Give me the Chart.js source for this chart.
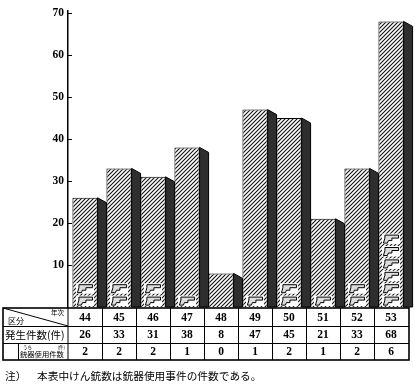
<!DOCTYPE html>
<html><head><meta charset="utf-8">
<script src="https://cdn.jsdelivr.net/npm/chart.js@4/dist/chart.umd.min.js"></script>
<style>html,body{margin:0;padding:0;background:#fff}#wrap{width:415px;height:385px;position:relative}</style>
</head><body><div id="wrap"><canvas id="c" width="415" height="385"></canvas></div>
<script>
const years = ['44','45','46','47','48','49','50','51','52','53'];
const incidents = [26,33,31,38,8,47,45,21,33,68];
const gunIncidents = [2,2,2,1,0,1,2,1,2,6];
const yTicks = [10,20,30,40,50,60,70];
const headerLeft = '区分';
const headerRight = '年次';
const row1Label = '発生件数(件)';
const row2Label = '銃器使用件数';
const row2Ruby = 'うち';
const row2Unit = '(件)';
const noteMark = '注）';
const noteText = '本表中けん銃数は銃器使用事件の件数である。';

const canvas = document.getElementById('c');
const ctx0 = canvas.getContext('2d');
function makeHatch(){
  const c = document.createElement('canvas'); c.width = 4; c.height = 4;
  const g = c.getContext('2d');
  g.fillStyle = '#fff'; g.fillRect(0,0,4,4);
  g.strokeStyle = '#111'; g.lineWidth = 1.1;
  g.beginPath();
  g.moveTo(0,4); g.lineTo(4,0);
  g.moveTo(-1,1); g.lineTo(1,-1);
  g.moveTo(3,5); g.lineTo(5,3);
  g.stroke();
  return ctx0.createPattern(c,'repeat');
}
const hatch = makeHatch();

function drawGun(ctx, bx, by, w, h){
  ctx.save();
  ctx.fillStyle = '#fff';
  ctx.fillRect(bx, by, w, h);
  ctx.strokeStyle = '#000'; ctx.lineWidth = 1;
  ctx.beginPath();
  // barrel
  ctx.moveTo(bx+3, by+1.5); ctx.lineTo(bx+w-1.5, by+1.5); ctx.lineTo(bx+w-1.5, by+4.5);
  ctx.lineTo(bx+10, by+4.5);
  // trigger area
  ctx.lineTo(bx+10, by+7); ctx.lineTo(bx+6.5, by+7);
  // grip
  ctx.lineTo(bx+5.5, by+h-1); ctx.lineTo(bx+1.5, by+h-1); ctx.lineTo(bx+3, by+4.5);
  ctx.closePath();
  ctx.fillStyle = '#ddd'; ctx.fill();
  ctx.stroke();
  ctx.restore();
}

const deco = {
  id: 'deco',
  afterDatasetsDraw(chart){
    const ctx = chart.ctx;
    const meta = chart.getDatasetMeta(0);
    const ys = chart.scales.y;
    const ca = chart.chartArea;
    ctx.save();
    meta.data.forEach((bar, i) => {
      const p = bar.getProps(['x','y','base','width'], true);
      const left = p.x - p.width/2, right = p.x + p.width/2;
      // side face (3D)
      ctx.beginPath();
      ctx.moveTo(right, p.y); ctx.lineTo(right+9, p.y+5); ctx.lineTo(right+9, p.base); ctx.lineTo(right, p.base); ctx.closePath();
      ctx.fillStyle = '#2e2e2e'; ctx.fill();
      ctx.strokeStyle = '#000'; ctx.lineWidth = 1; ctx.stroke();
      // gun pictograms
      for (let k = 0; k < gunIncidents[i]; k++) {
        const iy = p.base - (k+1)*12.4;
        drawGun(ctx, left+3.5, iy+1, p.width-7, 10.5);
      }
    });
    // tick marks to the right of the axis
    ctx.strokeStyle = '#000'; ctx.lineWidth = 1;
    yTicks.forEach(v => {
      const py = Math.round(ys.getPixelForValue(v)) + 0.5;
      ctx.beginPath(); ctx.moveTo(ca.left, py); ctx.lineTo(ca.left+4, py); ctx.stroke();
    });
    ctx.restore();
  },
  afterDraw(chart){
    const ctx = chart.ctx;
    const xs = chart.scales.x;
    const ca = chart.chartArea;
    const L = 3, R = ca.right + 1, T = ca.bottom + 1;
    const r1 = T + 18, r2 = r1 + 17, B = r2 + 17;
    ctx.save();
    ctx.strokeStyle = '#000';
    ctx.lineWidth = 1;
    ctx.beginPath();
    ctx.moveTo(L, r1+0.5); ctx.lineTo(R, r1+0.5);
    ctx.moveTo(L, r2+0.5); ctx.lineTo(R, r2+0.5);
    ctx.moveTo(ca.left, T); ctx.lineTo(ca.left, B);
    for (let i = 0; i < years.length-1; i++) {
      const bx = Math.round((xs.getPixelForValue(i) + xs.getPixelForValue(i+1))/2) + 0.5;
      ctx.moveTo(bx, T); ctx.lineTo(bx, B);
    }
    // diagonal header
    ctx.moveTo(L, T); ctx.lineTo(ca.left, r1);
    // inner bracket line for sub-row
    ctx.moveTo(18.5, r2); ctx.lineTo(18.5, B);
    ctx.stroke();
    ctx.lineWidth = 1.6;
    ctx.strokeRect(L, T, R-L, B-T);
    // header texts
    ctx.fillStyle = '#000';
    ctx.textBaseline = 'middle';
    ctx.font = '8px "Noto Sans CJK JP"';
    ctx.textAlign = 'left';
    ctx.fillText(headerLeft, 8, T+13);
    ctx.font = '6.5px "Noto Sans CJK JP"';
    ctx.textAlign = 'right';
    ctx.fillText(headerRight, ca.left-4, T+5);
    ctx.font = '10.5px "Noto Sans CJK JP"';
    ctx.textAlign = 'left';
    ctx.fillText(row1Label, 5, (r1+r2)/2+0.5);
    ctx.font = '7.3px "Noto Sans CJK JP"';
    ctx.fillText(row2Label, 20, (r2+B)/2+2.5);
    ctx.font = '4.5px "Noto Sans CJK JP"';
    ctx.fillText(row2Ruby, 23, r2+4);
    ctx.textAlign = 'right';
    ctx.fillText(row2Unit, ca.left-3, r2+4);
    // numbers
    ctx.font = 'bold 11.5px "Liberation Serif"';
    ctx.textAlign = 'center';
    years.forEach((yr, i) => {
      const cx = xs.getPixelForValue(i);
      ctx.fillText(yr, cx, (T+r1)/2+1);
      ctx.fillText(String(incidents[i]), cx, (r1+r2)/2+1);
      ctx.fillText(String(gunIncidents[i]), cx, (r2+B)/2+1);
    });
    // footnote
    ctx.font = '10.7px "Noto Sans CJK JP"';
    ctx.textAlign = 'left';
    ctx.fillText(noteMark, 5, 376);
    ctx.fillText(noteText, 37, 376);
    ctx.restore();
  }
};

new Chart(canvas, {
  type: 'bar',
  data: {
    labels: years,
    datasets: [{
      data: incidents,
      backgroundColor: hatch,
      borderColor: '#000',
      borderWidth: 1,
      barPercentage: 0.74,
      categoryPercentage: 1
    }]
  },
  options: {
    responsive: false,
    animation: false,
    devicePixelRatio: 1,
    layout: { padding: { left: 0, right: 7, top: 5, bottom: 78 } },
    plugins: { legend: { display: false }, tooltip: { enabled: false } },
    scales: {
      x: { display: false },
      y: {
        min: 0, max: 70.5,
        afterFit(s){ s.width = 68; },
        border: { display: true, color: '#000', width: 1.5 },
        grid: { display: false, drawTicks: false },
        afterBuildTicks(s){ s.ticks = yTicks.map(v => ({ value: v })); },
        ticks: {
          includeBounds: false,
          padding: 4,
          color: '#000',
          font: { family: 'Liberation Serif', size: 11.5, weight: 'bold' }
        }
      }
    }
  },
  plugins: [deco]
});
</script>
</body></html>
